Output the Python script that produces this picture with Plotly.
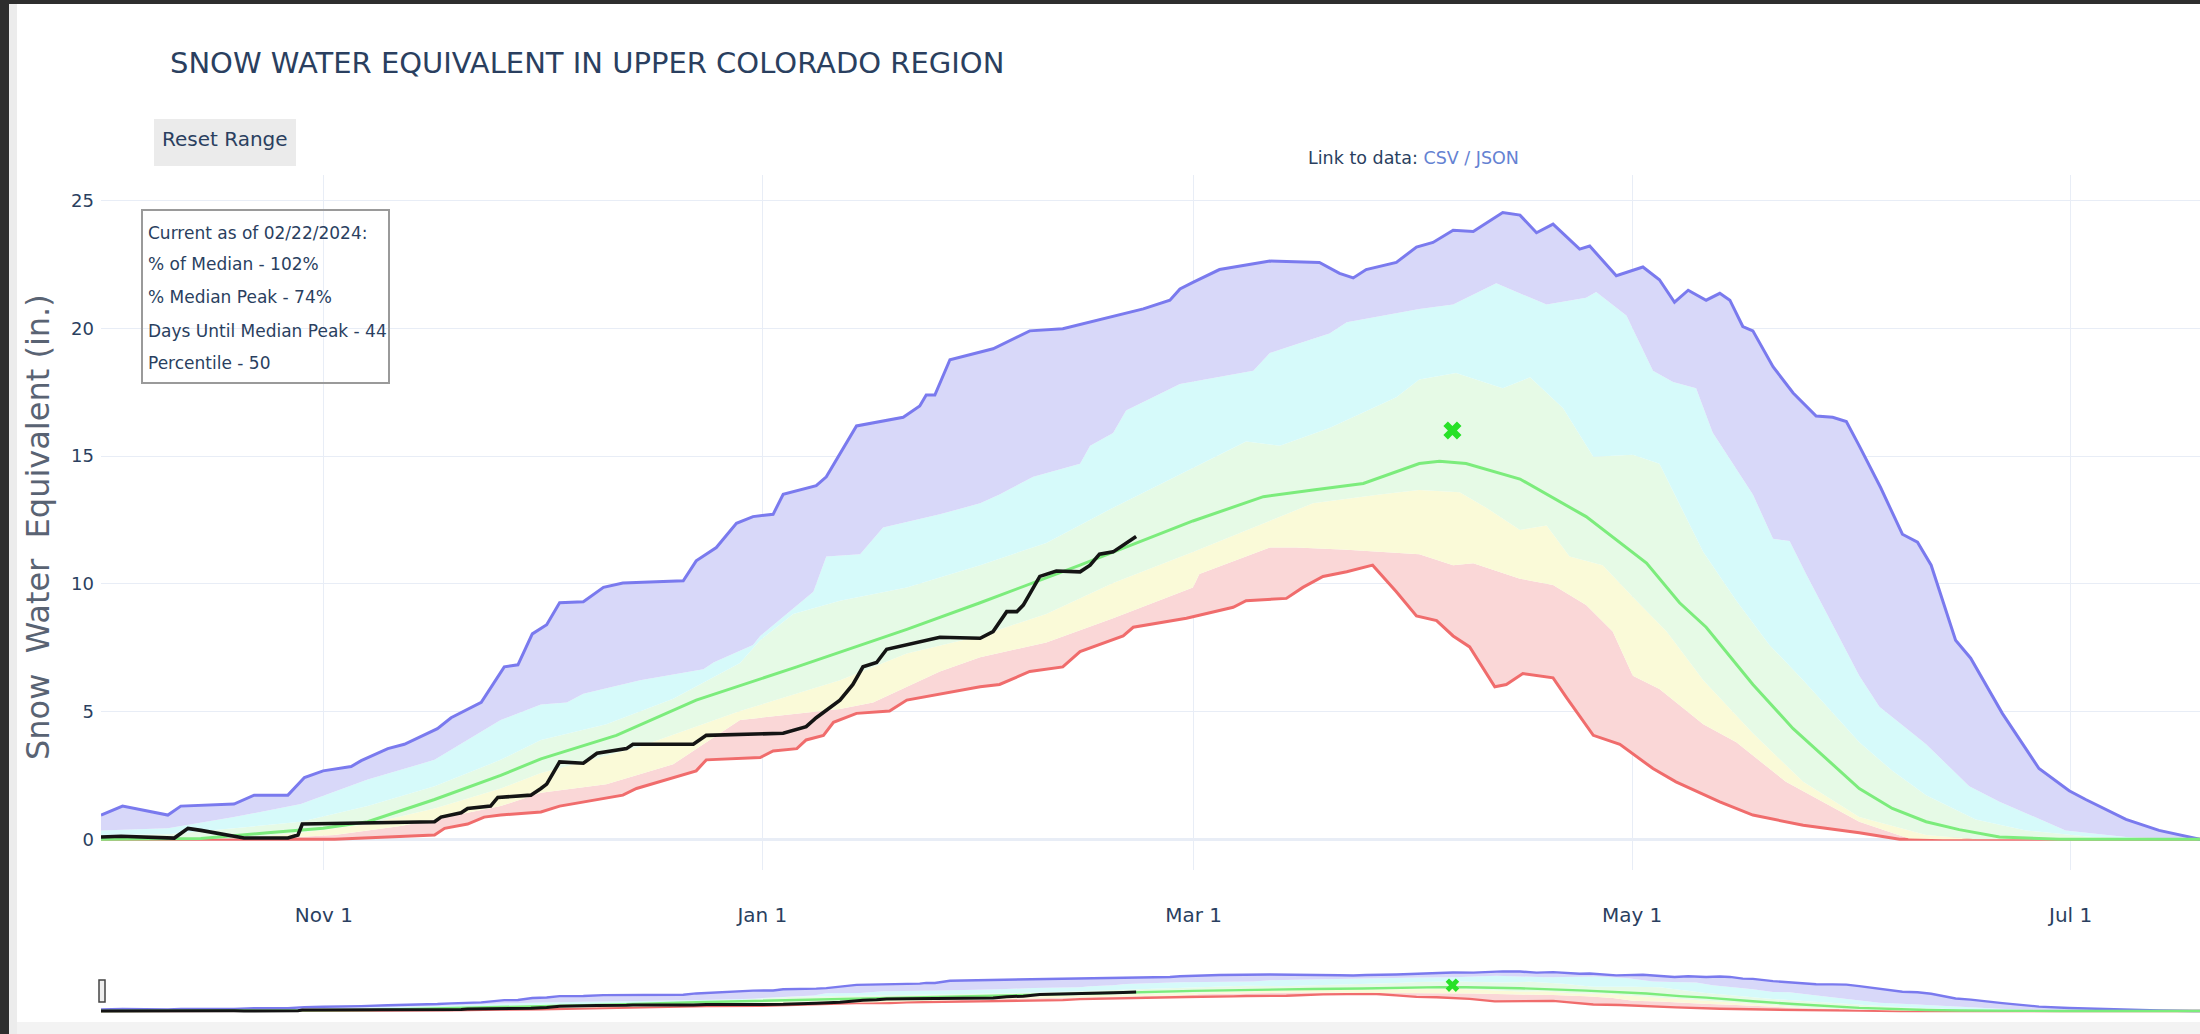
import pandas as pd
import plotly.graph_objects as go

# ---------------- data (days after 2023-10-01, SWE in inches) ----------------
START = "2023-10-01"

max_days = [0, 3, 9.3, 11.1, 18.5, 21.3, 26, 28.3, 30.9, 34.8, 36.2, 39.9, 42.2, 46.8, 48.7, 52.9, 56.1, 58, 60,
            62, 63.8, 67.1, 69.9, 72.6, 81, 82.8, 85.6, 88.4, 90.7, 93.5, 94.9, 99.5, 100.9, 105.1, 111.6, 113.9,
            114.8, 116, 118.1, 122.3, 124.1, 129.2, 133.8, 145, 148.7, 150.1, 151.9, 155.6, 162.6, 169.5, 172.3,
            174.2, 176, 180.2, 183, 185.3, 188.1, 190.9, 195, 197.4, 199.7, 202, 205.7, 207.1, 210.8, 214.5, 216.8,
            218.9, 220.8, 223.3, 225.2, 226.6, 228.4, 229.8, 232.6, 235.4, 238.6, 240.9, 242.8, 244.6, 247.6, 250.6,
            252.7, 254.6, 258, 260.1, 264.5, 269.6, 273.8, 276.1, 281.7, 286.3, 291, 292]
max_swe = [0.95, 1.3, 0.95, 1.3, 1.38, 1.73, 1.73, 2.42, 2.68, 2.85, 3.08, 3.55, 3.72, 4.33, 4.76, 5.36, 6.75, 6.83, 8.04,
           8.4, 9.26, 9.3, 9.86, 10.03, 10.12, 10.9, 11.42, 12.37, 12.63, 12.72, 13.5, 13.84, 14.19, 16.18, 16.52, 16.96,
           17.39, 17.39, 18.77, 19.07, 19.2, 19.9, 19.98, 20.76, 21.1, 21.54, 21.8, 22.3, 22.63, 22.58, 22.15,
           21.97, 22.3, 22.58, 23.18, 23.36, 23.84, 23.79, 24.53, 24.43, 23.74, 24.08, 23.1, 23.22, 22.06, 22.4, 21.9,
           21.02, 21.49, 21.1, 21.37, 21.1, 20.07, 19.9, 18.5, 17.47, 16.57, 16.52, 16.35, 15.4, 13.75, 11.94,
           11.63, 10.73, 7.79, 7.09, 4.93, 2.77, 1.9, 1.56, 0.78, 0.35, 0.05, 0.0]

p90_days = [0, 9.3, 18.5, 27.8, 37.1, 46.4, 55.6, 61.2, 64.8, 67.1, 75, 83.8, 85.2, 90.7, 91.7, 99.1, 100.9, 105.6,
            108.8, 116.7, 122.3, 125.0, 129.7, 136.2, 137.6, 140.8, 142.6, 150.1, 160.3, 162.6, 166.3, 170.9, 173.3,
            183.4, 188.1, 194.1, 201.1, 206.6, 208, 212.2, 215.9, 218.7, 221.9, 224.2, 229.8, 232.6, 234.9, 237.2,
            244.6, 247.4, 252, 253.9, 259.9, 264.1, 273.3, 281.7, 291, 292]
p90_swe = [0.35, 0.43, 0.87, 1.38, 2.34, 3.11, 4.67, 5.28, 5.36, 5.7, 6.23, 6.66, 6.92, 7.61, 7.96, 9.69, 11.07, 11.16,
           12.2, 12.72, 13.15, 13.5, 14.19, 14.7, 15.4, 15.9, 16.78, 17.82, 18.34, 19.03, 19.38, 19.8, 20.24,
           20.76, 20.93, 21.76, 20.93, 21.2, 21.42, 20.5, 18.34, 17.9, 17.65, 15.92, 13.5, 11.76, 11.68, 10.38,
           6.4, 5.19, 4.15, 3.72, 2.08, 1.47, 0.35, 0.09, 0, 0]

p70_days = [0, 9.3, 18.5, 27.8, 37.1, 46.4, 55.6, 61.2, 70.3, 79.6, 88.9, 91.7, 96.3, 102.8, 112.1, 122.3, 131.5,
            140.8, 151.9, 159.3, 164, 170.9, 180.2, 183.4, 188.5, 195, 198.8, 203.4, 207.6, 213.1, 216.8, 222.9,
            227.5, 232.1, 236.8, 244.6, 249.2, 253.9, 260.8, 267.8, 277, 286.3, 292]
p70_swe = [0.17, 0.2, 0.43, 0.69, 1.3, 2.08, 3.11, 3.89, 4.5, 5.5, 6.9, 7.79, 8.82, 9.34, 9.86, 10.73, 11.6,
           12.98, 14.53, 15.57, 15.4, 16.1, 17.3, 18.0, 18.25, 17.65, 18.08, 16.87, 14.97, 15.05, 14.7, 11.25,
           9.34, 7.61, 6.23, 3.8, 2.68, 1.73, 0.78, 0.35, 0.09, 0, 0]

med_days = [0, 13.9, 23.2, 30.9, 37.1, 46.4, 55.6, 61.2, 71.7, 82.8, 96.8, 112.1, 122.3, 136.2, 151.9, 161.7, 168.6,
            175.6, 183.4, 186.2, 189.9, 197.4, 206.6, 215, 219.6, 223.3, 229.8, 235.4, 244.6, 249.2, 253.9, 258.5,
            264.1, 272.4, 292]
med_swe = [0, 0.03, 0.26, 0.43, 0.69, 1.56, 2.5, 3.15, 4.07, 5.45, 6.75, 8.22, 9.26, 10.73, 12.46, 13.41, 13.67,
           13.93, 14.71, 14.8, 14.71, 14.1, 12.63, 10.81, 9.26, 8.3, 6.06, 4.33, 1.99, 1.21, 0.69, 0.38,
           0.09, 0, 0]

p30_days = [0, 18.5, 27.8, 37.1, 46.4, 55.6, 61.2, 75, 88.9, 102.8, 112.1, 122.3, 131.5, 140.8, 151.9, 159.3, 168.6,
            177.9, 183.4, 189, 192.7, 197.4, 201.1, 204.3, 208.9, 213.6, 217.8, 222.9, 229.8, 236.8, 244.6, 253.9,
            260.8, 292]
p30_swe = [0, 0.03, 0.26, 0.6, 1.21, 1.99, 2.6, 3.63, 5.02, 6.23, 7.27, 7.96, 8.82, 10.03, 11.25, 12.1, 13.15,
           13.5, 13.67, 13.58, 12.98, 12.11, 12.28, 11.07, 10.73, 9.34, 8.13, 6.23, 4.15, 2.25, 0.87, 0.17, 0, 0]

p10_days = [0, 23.2, 32.5, 41.7, 46.4, 51, 55.6, 61.2, 70.3, 79.6, 84.2, 88.9, 102.8, 107.4, 116.7, 122.3, 131.5,
            140.8, 151.9, 152.8, 162.6, 166.3, 173.3, 183.4, 188.1, 190.9, 197.4, 202, 206.6, 210.3, 213.1, 216.8,
            222.9, 227.5, 234.4, 244.6, 251.5, 256.2, 292]
p10_swe = [0, 0.03, 0.17, 0.52, 0.78, 1.04, 1.3, 1.82, 2.16, 2.94, 3.81, 4.67, 5.1, 5.36, 6.57, 7.13, 7.7,
           8.65, 9.86, 10.38, 11.42, 11.42, 11.33, 11.16, 10.73, 10.81, 10.2, 9.95, 9.17, 8.13, 6.4, 5.88,
           4.5, 3.8, 2.25, 0.69, 0.03, 0, 0]

min_days = [0, 32.5, 46.4, 47.8, 51, 53.3, 55.6, 61.2, 63.8, 72.6, 74.5, 82.8, 84.2, 91.7, 93.5, 96.8, 98.1, 100.5,
            101.9, 105.1, 109.7, 112.1, 122.3, 125, 129.2, 133.8, 136.2, 142.2, 143.6, 151, 157.5, 159.3, 164.9,
            167.2, 170, 173.3, 176.9, 180.2, 183, 185.8, 188.1, 190.4, 193.9, 195.5, 197.8, 202, 203.9, 207.6,
            211.3, 215.9, 219.1, 225.2, 229.8, 236.8, 244.6, 250.2, 292]
min_swe = [0, 0, 0.17, 0.43, 0.6, 0.87, 0.95, 1.07, 1.3, 1.73, 1.99, 2.68, 3.11, 3.2, 3.46, 3.55, 3.89, 4.07,
           4.58, 4.93, 5.02, 5.45, 5.97, 6.06, 6.57, 6.75, 7.35, 7.96, 8.3, 8.65, 9.08, 9.34, 9.43,
           9.86, 10.29, 10.47, 10.73, 9.69, 8.74, 8.56, 7.96, 7.53, 5.97, 6.06, 6.49, 6.32, 5.54, 4.07,
           3.72, 2.77, 2.25, 1.47, 0.95, 0.55, 0.26, 0, 0]

cur_days = [0, 2.8, 10.2, 12.1, 13.9, 18.5, 19.9, 26, 27.4, 28, 46.4, 47.3, 50.1, 51, 54.2, 55.2, 59.8, 61.2,
            62, 63.8, 67.1, 69, 73.1, 74, 82.4, 84.2, 94.9, 98.1, 99.5, 102.8, 104.6, 106, 107.9, 109.3, 112.1,
            116.7, 122.3, 124.1, 126, 127.4, 128.3, 130.6, 132.9, 136.2, 137.6, 138.9, 140.8, 142.2, 144]
cur_swe = [0.09, 0.12, 0.05, 0.43, 0.35, 0.12, 0.05, 0.05, 0.17, 0.6, 0.69, 0.87, 1.04, 1.21, 1.3, 1.64, 1.73, 1.99,
           2.16, 3.03, 2.98, 3.37, 3.55, 3.72, 3.72, 4.07, 4.15, 4.41, 4.76, 5.45, 6.06, 6.75, 6.92, 7.44, 7.61,
           7.91, 7.87, 8.13, 8.91, 8.91, 9.17, 10.29, 10.5, 10.47, 10.73, 11.16, 11.25, 11.5, 11.85]

peak_days = [188]
peak_swe = [16.0]

xtick_vals = ["2023-11-01", "2024-01-01", "2024-03-01", "2024-05-01", "2024-07-01"]
xtick_text = ["Nov 1", "Jan 1", "Mar 1", "May 1", "Jul 1"]
ytick_vals = [0, 5, 10, 15, 20, 25]

title_text = "SNOW WATER EQUIVALENT IN UPPER COLORADO REGION"
info_lines = ["Current as of 02/22/2024:", "% of Median - 102%", "% Median Peak - 74%",
              "Days Until Median Peak - 44", "Percentile - 50"]

# ---------------- layout helpers ----------------
W, H = 2200, 1034
PL, PR, PT, PB = 101, 2200, 175, 1013
MAIN_BOTTOM, MINI_TOP = 870, 969
FONT = "DejaVu Sans"
TXT = "#2a3f5f"


def px_x(p):
    return (p - PL) / (PR - PL)


def px_y(p):
    return (PB - p) / (PB - PT)


def to_dates(days):
    return pd.Timestamp(START) + pd.to_timedelta(days, unit="D")


x_range = [pd.Timestamp(START), pd.Timestamp(START) + pd.Timedelta(days=292)]
y_range = [-1.2, 26.0]

C_MAX_LINE = "rgb(122,122,238)"
C_MAX_FILL = "rgb(216,216,249)"
C_P90_FILL = "rgb(214,250,250)"
C_P70_FILL = "rgb(230,250,230)"
C_P30_FILL = "rgb(250,250,216)"
C_P10_FILL = "rgb(250,215,215)"
C_MIN_LINE = "rgb(240,108,108)"
C_MED_LINE = "rgb(124,236,124)"

fig = go.Figure()


def add_band_traces(xa, ya, lw, main):
    fig.add_trace(go.Scatter(x=to_dates(min_days), y=min_swe, mode="lines", name="Min",
                             line=dict(color=C_MIN_LINE, width=lw), xaxis=xa, yaxis=ya))
    for d, v, c, n in [(p10_days, p10_swe, C_P10_FILL, "10%"), (p30_days, p30_swe, C_P30_FILL, "30%"),
                       (p70_days, p70_swe, C_P70_FILL, "70%"), (p90_days, p90_swe, C_P90_FILL, "90%")]:
        fig.add_trace(go.Scatter(x=to_dates(d), y=v, mode="lines", name=n, fill="tonexty", fillcolor=c,
                                 line=dict(width=0, color=c), xaxis=xa, yaxis=ya))
    fig.add_trace(go.Scatter(x=to_dates(max_days), y=max_swe, mode="lines", name="Max", fill="tonexty",
                             fillcolor=C_MAX_FILL, line=dict(color=C_MAX_LINE, width=lw), xaxis=xa, yaxis=ya))
    fig.add_trace(go.Scatter(x=to_dates(med_days), y=med_swe, mode="lines", name="Median",
                             line=dict(color=C_MED_LINE, width=lw), xaxis=xa, yaxis=ya))
    fig.add_trace(go.Scatter(x=to_dates(cur_days), y=cur_swe, mode="lines", name="WY2024",
                             line=dict(color="#141414", width=lw + 0.6), xaxis=xa, yaxis=ya))
    fig.add_trace(go.Scatter(x=to_dates(peak_days), y=peak_swe, mode="markers", name="Median Peak",
                             marker=dict(symbol="x", size=16 if main else 12, color="rgb(40,225,40)"),
                             xaxis=xa, yaxis=ya))


add_band_traces("x", "y", 3, True)
add_band_traces("x2", "y2", 2.4, False)

shapes = [
    # info box
    dict(type="rect", xref="paper", yref="paper", x0=px_x(142), x1=px_x(389), y0=px_y(383), y1=px_y(210),
         line=dict(color="#9a9a9a", width=2), fillcolor="rgba(0,0,0,0)", layer="above"),
    # reset button background
    dict(type="rect", xref="paper", yref="paper", x0=px_x(154), x1=px_x(296), y0=px_y(166), y1=px_y(119),
         line=dict(width=0), fillcolor="#ebebeb", layer="above"),
    # range handle
    dict(type="rect", xref="paper", yref="paper", x0=px_x(99), x1=px_x(105), y0=px_y(1002), y1=px_y(980),
         line=dict(color="#444", width=1.5), fillcolor="#eeeeee", layer="above"),
    # page frame
    dict(type="rect", xref="paper", yref="paper", x0=px_x(0), x1=px_x(9), y0=px_y(H), y1=px_y(0),
         line=dict(width=0), fillcolor="#2e2e2e", layer="above"),
    dict(type="rect", xref="paper", yref="paper", x0=px_x(9), x1=px_x(17), y0=px_y(H), y1=px_y(4),
         line=dict(width=0), fillcolor="#ececec", layer="above"),
    dict(type="rect", xref="paper", yref="paper", x0=px_x(0), x1=px_x(W), y0=px_y(4), y1=px_y(0),
         line=dict(width=0), fillcolor="#2e2e2e", layer="above"),
    dict(type="rect", xref="paper", yref="paper", x0=px_x(17), x1=px_x(W), y0=px_y(H), y1=px_y(1022),
         line=dict(width=0), fillcolor="#f3f3f3", layer="above"),
]

line_y = [233, 264, 297, 331, 363]
annotations = [
    dict(text=t, xref="paper", yref="paper", x=px_x(146), y=px_y(yy), xanchor="left", yanchor="middle",
         showarrow=False, font=dict(family=FONT, size=17, color=TXT))
    for t, yy in zip(info_lines, line_y)
]
annotations.append(dict(
    text="Link to data: <span style='color:#6482d2'>CSV / JSON</span>",
    xref="paper", yref="paper", x=px_x(1413), y=px_y(158), xanchor="center", yanchor="middle",
    showarrow=False, font=dict(family=FONT, size=17.5, color=TXT)))
annotations.append(dict(
    text="Snow  Water  Equivalent (in.)", textangle=-90, xref="paper", yref="paper",
    x=px_x(38), y=px_y(527), xanchor="center", yanchor="middle", showarrow=False,
    font=dict(family=FONT, size=32, color="#596373")))

fig.update_layout(
    width=W, height=H,
    margin=dict(l=PL, r=W - PR, t=PT, b=H - PB, autoexpand=False),
    paper_bgcolor="white", plot_bgcolor="white",
    showlegend=False,
    font=dict(family=FONT, color=TXT),
    title=dict(text=title_text, x=170 / W, xref="container", xanchor="left",
               y=1 - 63 / H, yref="container", yanchor="middle",
               font=dict(family=FONT, size=29, color=TXT)),
    xaxis=dict(range=x_range, anchor="y", domain=[0, 1], tickvals=xtick_vals, ticktext=xtick_text,
               showgrid=True, gridcolor="#E8EDF6", gridwidth=1, zeroline=False, showline=False,
               ticks="", ticklabelstandoff=31, tickfont=dict(family=FONT, size=20, color=TXT),
               automargin=False),
    yaxis=dict(range=y_range, domain=[px_y(MAIN_BOTTOM), 1], tickvals=ytick_vals,
               showgrid=True, gridcolor="#E8EDF6", gridwidth=1, zeroline=True, zerolinecolor="#E8EDF6",
               zerolinewidth=3, showline=False, ticks="", ticklabelstandoff=6,
               tickfont=dict(family=FONT, size=18, color=TXT), automargin=False),
    xaxis2=dict(range=x_range, anchor="y2", domain=[0, 1], showticklabels=False, showgrid=False,
                zeroline=False, showline=False, automargin=False),
    yaxis2=dict(range=y_range, domain=[0, px_y(MINI_TOP)], showticklabels=False, showgrid=False,
                zeroline=False, showline=False, automargin=False),
    shapes=shapes,
    annotations=annotations,
    updatemenus=[dict(
        type="buttons", direction="left", showactive=False,
        x=px_x(150), y=px_y(126), xanchor="left", yanchor="top", pad=dict(l=0, r=0, t=0, b=0),
        bgcolor="rgba(0,0,0,0)", bordercolor="rgba(0,0,0,0)", borderwidth=0,
        font=dict(family=FONT, size=20, color=TXT),
        buttons=[dict(label="Reset Range", method="relayout",
                      args=[{"xaxis.range": [str(x_range[0].date()), str(x_range[1].date())],
                             "yaxis.range": y_range}])])],
)

fig.write_html("out.html", config={"displayModeBar": False},
               post_script="document.body.style.margin='0';document.body.style.overflow='hidden';")
